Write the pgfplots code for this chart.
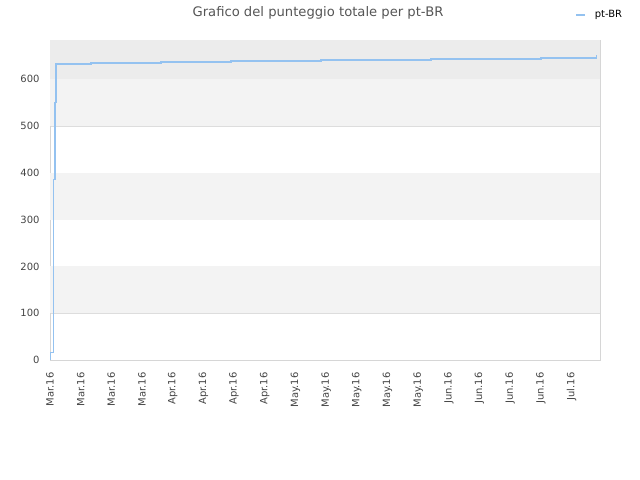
\documentclass[border=0pt]{standalone}
\usepackage{fontspec}
\setmainfont{DejaVu Sans}
\usepackage{pgfplots}
\pgfplotsset{compat=1.18}
\usetikzlibrary{calc}
\definecolor{seriesblue}{HTML}{94C2F0}
\definecolor{bandlight}{HTML}{F3F3F3}
\definecolor{banddark}{HTML}{ECECEC}
\definecolor{gridgray}{HTML}{DDDDDD}
\definecolor{framegray}{HTML}{D6D6D6}
\definecolor{textgray}{HTML}{444444}
\definecolor{titlegray}{HTML}{555555}
\begin{document}
\begin{tikzpicture}
\begin{axis}[
    scale only axis,
    width=550bp, height=320bp,
    xmin=0, xmax=125.5,
    ymin=0, ymax=684,
    axis line style={framegray},
    xtick={0,7,...,119},
    xticklabels={Mar.16,Mar.16,Mar.16,Mar.16,Apr.16,Apr.16,Apr.16,Apr.16,
                 May.16,May.16,May.16,May.16,May.16,Jun.16,Jun.16,Jun.16,Jun.16,Jul.16},
    xticklabel style={rotate=90, anchor=east, xshift=-9bp, font=\fontsize{10}{11}\selectfont, text=textgray},
    ytick={0,100,...,600},
    yticklabel style={xshift=-7bp, font=\fontsize{10}{11}\selectfont, text=textgray},
    /pgf/number format/assume math mode=true,
    ymajorgrids,
    major grid style={gridgray, line width=0.6bp},
    tick style={draw=none},
    legend style={at={(axis description cs:1.044,1.078)}, anchor=east, draw=none, fill=none,
                  inner sep=0pt, font=\fontsize{10}{11}\selectfont, text=black,
                  /tikz/every odd column/.style={column sep=7bp}},
    legend image code/.code={\draw[seriesblue, line width=1.5bp] (0bp,0bp) -- (9bp,0bp);},
]
\fill[bandlight] (axis cs:0,100) rectangle (axis cs:125.5,200);
\fill[bandlight] (axis cs:0,300) rectangle (axis cs:125.5,400);
\fill[bandlight] (axis cs:0,500) rectangle (axis cs:125.5,600);
\fill[banddark] (axis cs:0,600) rectangle (axis cs:125.5,684);
\addplot[seriesblue, line width=1.5bp, const plot] coordinates {
    (0,0) (0,16) (0.85,386) (1.1,550) (1.35,633) (9.3,635) (25.3,637)
    (41.3,639) (61.8,641) (86.9,643) (112.0,645) (124.7,651)
};
\addlegendentry{pt-BR}
\coordinate (ll) at (rel axis cs:0,0);
\coordinate (ur) at (rel axis cs:1,1);
\end{axis}
\node[text=titlegray, font=\fontsize{13.2}{14}\selectfont, anchor=base] at ($(ll|-ur)+(268bp,23bp)$) {Grafico del punteggio totale per pt-BR};
\pgfresetboundingbox
\path[use as bounding box] ($(ll)+(-50bp,-120bp)$) rectangle ($(ur)+(40bp,40bp)$);
\end{tikzpicture}
\end{document}
